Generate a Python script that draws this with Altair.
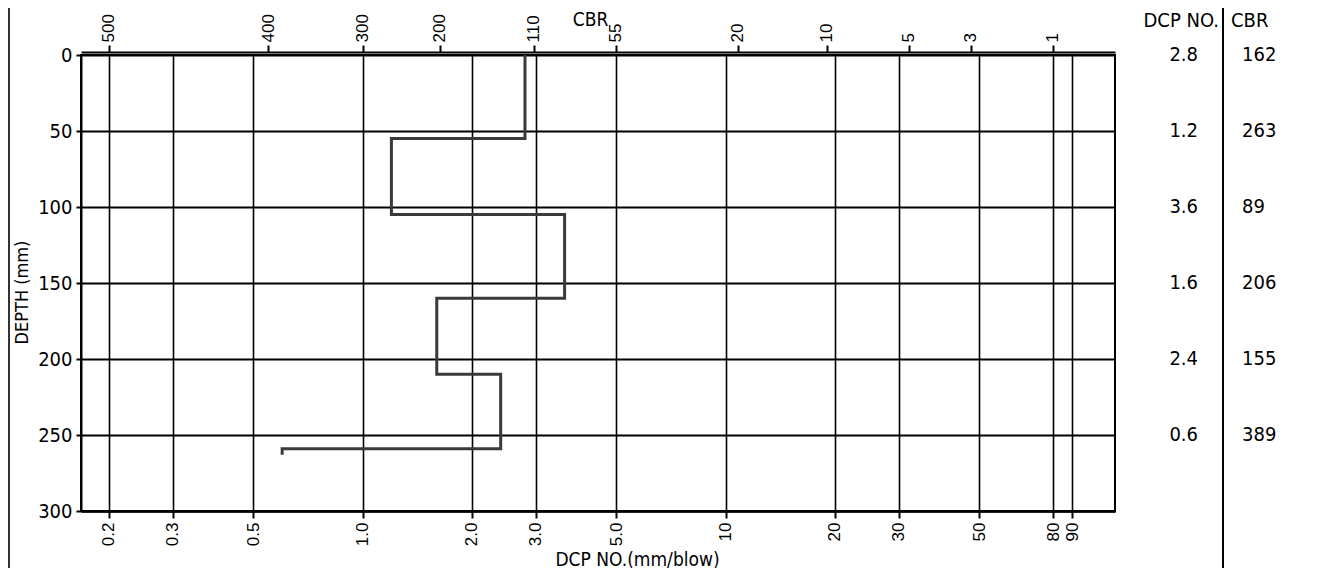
import json
import altair as alt
import pandas as pd

# ---------------- data ----------------
layer_dcp = [2.8, 1.2, 3.6, 1.6, 2.4, 0.6]
layer_top = [0, 55, 105, 160, 210, 259]
layer_bottom = [55, 105, 160, 210, 259, 263]

dcp_ticks = [0.2, 0.3, 0.5, 1.0, 2.0, 3.0, 5.0, 10, 20, 30, 50, 80, 90]
cbr_tick_pos = [0.2, 0.55, 1.0, 1.63, 2.96, 4.98, 10.8, 19.0, 31.9, 47.3, 79.6]
cbr_tick_labels = ["500", "400", "300", "200", "110", "55", "20", "10", "5", "3", "1"]
depth_ticks = [0, 50, 100, 150, 200, 250, 300]

table_depth = [0, 50, 100, 150, 200, 250]
table_dcp = ["2.8", "1.2", "3.6", "1.6", "2.4", "0.6"]
table_cbr = ["162", "263", "89", "206", "155", "389"]

# ---------------- tables ----------------
rows = []
k = 0
for d, t, b in zip(layer_dcp, layer_top, layer_bottom):
    rows.append({"i": k, "dcp": d, "depth": t}); k += 1
    rows.append({"i": k, "dcp": d, "depth": b}); k += 1
df_line = pd.DataFrame(rows)
df_cbr = pd.DataFrame({"pos": cbr_tick_pos, "lab": cbr_tick_labels})
df_table = pd.DataFrame({"depth": table_depth, "dcp": table_dcp, "cbr": table_cbr})
one = pd.DataFrame({"a": [0]})

W, H = 1034, 456
X0, Y0 = 81, 55  # page position of the plot origin
TAHOMA = "'DejaVu Sans Condensed', 'DejaVu Sans', sans-serif"
ARIAL = "'Liberation Sans', Arial, sans-serif"

xdom = [0.1675, 118.2]
xscale = alt.Scale(type="log", domain=xdom, nice=False, zero=False)
yscale = alt.Scale(domain=[0, 300], reverse=True, nice=False, zero=False)

bottom_expr = "datum.value < 10 ? format(datum.value, '.1f') : format(datum.value, 'd')"
top_expr = "%s[indexof(%s, datum.value)]" % (json.dumps(cbr_tick_labels), json.dumps(cbr_tick_pos))

line = alt.Chart(df_line).mark_line(color="#3a3a3a", strokeWidth=3, strokeJoin="miter").encode(
    x=alt.X("dcp:Q", scale=xscale, axis=alt.Axis(
        orient="bottom", values=dcp_ticks, labelExpr=bottom_expr, grid=True,
        gridColor="black", gridWidth=1.6, labelAngle=-90, labelFont=ARIAL, labelFontSize=17,
        labelPadding=4, tickSize=7, tickWidth=2, domainWidth=2.5,
        title="DCP NO.(mm/blow)", titleFont=TAHOMA, titleFontSize=19, titleFontWeight="normal",
        titleX=637 - X0, titleY=559 - (Y0 + H), titleBaseline="middle", titleAlign="center",
    )),
    y=alt.Y("depth:Q", scale=yscale, axis=alt.Axis(
        values=depth_ticks, grid=True, gridColor="black", gridWidth=2,
        labelFont=TAHOMA, labelFontSize=20, labelPadding=4, tickSize=5, tickWidth=2,
        domainWidth=2,
        title="DEPTH (mm)", titleFont=TAHOMA, titleFontSize=18, titleFontWeight="normal",
        titleX=22 - X0, titleY=292 - Y0, titleBaseline="middle", titleAlign="center",
    )),
    order="i:O",
)

top = alt.Chart(df_cbr).mark_point(opacity=0).encode(
    x=alt.X("pos:Q", scale=xscale, axis=alt.Axis(
        orient="top", values=cbr_tick_pos, labelExpr=top_expr, grid=False, offset=3,
        labelAngle=-90, labelFont=ARIAL, labelFontSize=17, labelPadding=3,
        tickSize=7, tickWidth=2, domainWidth=2,
        title="CBR", titleFont=TAHOMA, titleFontSize=19, titleFontWeight="normal",
        titleX=590 - X0, titleY=19 - Y0 + 3, titleBaseline="middle", titleAlign="center",
    )),
    y=alt.value(0),
)

dcp_txt = alt.Chart(df_table).mark_text(align="right", baseline="middle", font=TAHOMA, fontSize=20, color="black").encode(
    x=alt.value(1198 - X0), y=alt.Y("depth:Q", scale=yscale, axis=None), text="dcp:N")
cbr_txt = alt.Chart(df_table).mark_text(align="left", baseline="middle", font=TAHOMA, fontSize=20, color="black").encode(
    x=alt.value(1242 - X0), y=alt.Y("depth:Q", scale=yscale, axis=None), text="cbr:N")

hdr1 = alt.Chart(one).mark_text(align="right", baseline="middle", font=TAHOMA, fontSize=20, color="black").encode(
    x=alt.value(1219 - X0), y=alt.value(21 - Y0), text=alt.value("DCP NO."))
hdr2 = alt.Chart(one).mark_text(align="left", baseline="middle", font=TAHOMA, fontSize=20, color="black").encode(
    x=alt.value(1231 - X0), y=alt.value(21 - Y0), text=alt.value("CBR"))

divider = alt.Chart(one).mark_rule(color="black", strokeWidth=2).encode(
    x=alt.value(1223 - X0), y=alt.value(-Y0), y2=alt.value(600))
left_frame = alt.Chart(one).mark_rule(color="#333333", strokeWidth=2).encode(
    x=alt.value(9 - X0), y=alt.value(-Y0), y2=alt.value(600))

SVG_W, SVG_H = 1324, 560

chart = alt.layer(line, top, dcp_txt, cbr_txt, hdr1, hdr2, divider, left_frame).resolve_scale(
    x="independent"
).resolve_axis(
    y="independent"
).properties(
    width=W, height=H,
    autosize=alt.AutoSizeParams(type="none"),
    padding={"left": X0 - 8, "top": Y0 - 8, "right": SVG_W - (X0 - 8) - W, "bottom": SVG_H - (Y0 - 8) - H},
).configure_view(
    stroke="black", strokeWidth=2
).configure_axis(
    domainColor="black", tickColor="black", labelColor="black", titleColor="black",
)

chart.save("out.html", embed_options={"renderer": "svg", "actions": False})
